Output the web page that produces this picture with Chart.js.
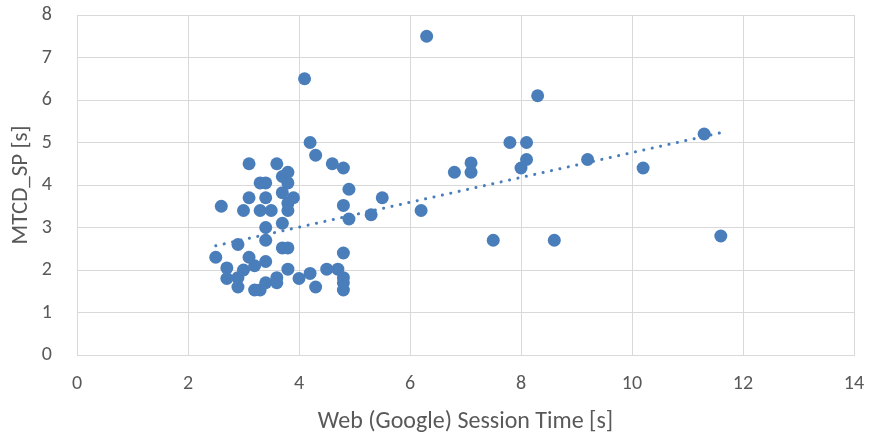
<!DOCTYPE html>
<html>
<head>
<meta charset="utf-8">
<script src="https://cdn.jsdelivr.net/npm/chart.js@4.4.1/dist/chart.umd.min.js"></script>
<style>
    html, body { margin: 0; padding: 0; background: #fff; }
    #wrap { width: 871px; height: 436px; }
</style>
</head>
<body>
<div id="wrap"><canvas id="scatterChart"></canvas></div>
<script>
    'use strict';

    // session time (x) and MTCD_SP (y)
    var sessionTime = [
        2.5, 2.6, 2.7, 2.7, 2.9, 2.9, 2.9, 3.0, 3.0, 3.1,
        3.1, 3.1, 3.2, 3.2, 3.3, 3.3, 3.3, 3.4, 3.4, 3.4,
        3.4, 3.4, 3.4, 3.5, 3.6, 3.6, 3.6, 3.7, 3.7, 3.7,
        3.7, 3.8, 3.8, 3.8, 3.8, 3.8, 3.8, 3.9, 4.0, 4.1,
        4.2, 4.2, 4.3, 4.3, 4.5, 4.6, 4.7, 4.8, 4.8, 4.8,
        4.8, 4.8, 4.8, 4.9, 4.9, 5.3, 5.5, 6.2, 6.3, 6.8,
        7.1, 7.1, 7.5, 7.8, 8.0, 8.1, 8.1, 8.3, 8.6, 9.2,
        10.2, 11.3, 11.6
    ];
    var mtcdSp = [
        2.3, 3.5, 2.05, 1.8, 2.6, 1.82, 1.6, 3.4, 2.0, 4.5,
        3.7, 2.3, 2.1, 1.53, 4.05, 3.4, 1.53, 4.05, 3.7, 3.0,
        2.7, 2.2, 1.7, 3.4, 4.5, 1.82, 1.7, 4.2, 3.82, 3.1,
        2.52, 4.3, 4.05, 3.57, 3.4, 2.52, 2.02, 3.7, 1.8, 6.5,
        5.0, 1.92, 4.7, 1.6, 2.02, 4.5, 2.02, 4.4, 3.52, 2.4,
        1.82, 1.7, 1.53, 3.9, 3.2, 3.3, 3.7, 3.4, 7.5, 4.3,
        4.52, 4.3, 2.7, 5.0, 4.4, 4.6, 5.0, 6.1, 2.7, 4.6,
        4.4, 5.2, 2.8
    ];

    // dotted linear trend line, end points
    var trendX = [2.5, 11.6];
    var trendY = [2.57, 5.23];

    var xTicks = [0, 2, 4, 6, 8, 10, 12, 14];
    var yTicks = [0, 1, 2, 3, 4, 5, 6, 7, 8];

    var blue = '#4a7ebb';
    var gridColor = '#d9d9d9';
    var textColor = '#595959';
    var fontFamily = "Carlito, Lato, sans-serif";

    var points = sessionTime.map(function (x, i) {
        return { x: x, y: mtcdSp[i] };
    });
    var trend = trendX.map(function (x, i) {
        return { x: x, y: trendY[i] };
    });

    var scatterChart = new Chart(document.getElementById('scatterChart'), {
        type: 'scatter',
        data: {
            datasets: [
                {
                    label: 'Linear (MTCD_SP)',
                    data: trend,
                    showLine: true,
                    borderColor: blue,
                    borderWidth: 3,
                    borderDash: [0.1, 8.5],
                    borderCapStyle: 'round',
                    pointRadius: 0,
                    fill: false
                },
                {
                    label: 'MTCD_SP',
                    data: points,
                    backgroundColor: blue,
                    borderColor: blue,
                    borderWidth: 0,
                    pointRadius: 6.5
                }
            ]
        },
        options: {
            responsive: true,
            maintainAspectRatio: false,
            animation: false,
            layout: { padding: { top: 15, right: 17, left: 0, bottom: 0 } },
            plugins: {
                legend: { display: false },
                tooltip: { enabled: false }
            },
            scales: {
                x: {
                    type: 'linear',
                    min: 0,
                    max: 14,
                    afterBuildTicks: function (scale) {
                        scale.ticks = xTicks.map(function (v) { return { value: v }; });
                    },
                    afterFit: function (scale) {
                        scale.height = 81;
                        scale.paddingLeft = 0;
                        scale.paddingRight = 0;
                    },
                    grid: { color: gridColor, lineWidth: 1, drawTicks: false },
                    border: { color: gridColor, width: 1 },
                    ticks: {
                        padding: 17,
                        color: textColor,
                        font: { family: fontFamily, size: 20 },
                        maxRotation: 0
                    },
                    title: {
                        display: true,
                        text: 'Web (Google) Session Time [s]',
                        color: textColor,
                        font: { family: fontFamily, size: 24 },
                        padding: { top: 4, bottom: 0 }
                    }
                },
                y: {
                    type: 'linear',
                    min: 0,
                    max: 8,
                    afterBuildTicks: function (scale) {
                        scale.ticks = yTicks.map(function (v) { return { value: v }; });
                    },
                    afterFit: function (scale) {
                        scale.width = 77;
                        scale.paddingTop = 0;
                        scale.paddingBottom = 0;
                    },
                    grid: { color: gridColor, lineWidth: 1, drawTicks: false },
                    border: { color: gridColor, width: 1 },
                    ticks: {
                        padding: 25,
                        color: textColor,
                        font: { family: fontFamily, size: 20 }
                    },
                    title: {
                        display: true,
                        text: 'MTCD_SP [s]',
                        color: textColor,
                        font: { family: fontFamily, size: 23 },
                        padding: { top: 7, bottom: 4 }
                    }
                }
            }
        }
    });
</script>
</body>
</html>
